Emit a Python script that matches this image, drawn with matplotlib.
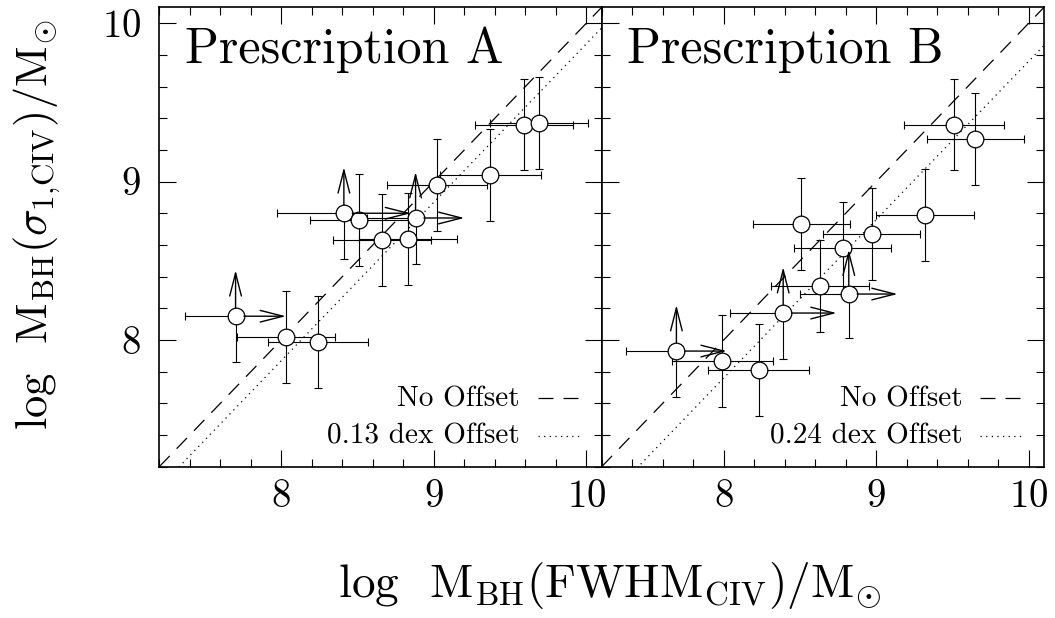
import numpy as np
import matplotlib
matplotlib.use("Agg")
import matplotlib.pyplot as plt
from matplotlib.ticker import MultipleLocator

plt.rcParams['font.family'] = 'cmr10'
plt.rcParams['mathtext.fontset'] = 'cm'
plt.rcParams['axes.formatter.use_mathtext'] = True

# Prescription A: log M_BH from FWHM (x) vs from sigma_1 (y)
xa = [7.70, 8.03, 8.24, 8.41, 8.51, 8.66, 8.83, 8.88, 9.02, 9.37, 9.59, 9.69]
ya = [8.15, 8.02, 7.99, 8.80, 8.76, 8.63, 8.64, 8.77, 8.98, 9.04, 9.36, 9.37]
xerr_a = [0.33, 0.32, 0.33, 0.44, 0.32, 0.32, 0.32, 0.32, 0.33, 0.33, 0.32, 0.32]
yerr_a = [0.29, 0.29, 0.29, 0.29, 0.29, 0.29, 0.29, 0.29, 0.29, 0.29, 0.29, 0.29]
lim_a = [1, 0, 0, 1, 0, 0, 0, 1, 0, 0, 0, 0]

# Prescription B
xb = [7.69, 7.99, 8.23, 8.39, 8.51, 8.63, 8.78, 8.82, 8.97, 9.32, 9.51, 9.65]
yb = [7.93, 7.87, 7.81, 8.17, 8.73, 8.34, 8.58, 8.29, 8.67, 8.79, 9.36, 9.27]
xerr_b = [0.33, 0.33, 0.33, 0.35, 0.32, 0.32, 0.32, 0.32, 0.32, 0.32, 0.33, 0.32]
yerr_b = [0.29, 0.29, 0.29, 0.29, 0.29, 0.29, 0.29, 0.28, 0.29, 0.29, 0.29, 0.29]
lim_b = [1, 0, 0, 1, 0, 0, 0, 1, 0, 0, 0, 0]

offsets = [0.13, 0.24]
titles = ['Prescription A', 'Prescription B']
lim = (7.2, 10.1)

fig = plt.figure(figsize=(10.55, 6.18), dpi=100)
ax1 = fig.add_axes([0.151, 0.2448, 0.4193, 0.7434])
ax2 = fig.add_axes([0.5703, 0.2448, 0.4193, 0.7434])

arrow_kw = dict(arrowstyle='->,head_length=1.65,head_width=0.42', lw=1.0,
                color='black', shrinkA=6, shrinkB=0, mutation_scale=10)


def panel(ax, x, y, ex, ey, limits, off, title):
    x = np.array(x); y = np.array(y); ex = np.array(ex); ey = np.array(ey)
    limits = np.array(limits, dtype=bool)

    # one-to-one relation and the offset version
    xx = np.array(lim)
    ax.plot(xx, xx, color='black', lw=0.9, ls=(0, (12, 8)), zorder=1)
    ax.plot(xx, xx - off, color='black', lw=0.9, ls=(0, (1, 3.5)), zorder=1)

    # error bars: symmetric for normal points, lower side only for limits
    xlo = ex; xhi = np.where(limits, 0, ex)
    ylo = ey; yhi = np.where(limits, 0, ey)
    ax.errorbar(x, y, xerr=[xlo, xhi], yerr=[ylo, yhi], fmt='none',
                ecolor='black', elinewidth=0.8, capsize=2.8, capthick=0.8,
                zorder=2)
    ax.plot(x, y, 'o', ms=12, mfc='white', mec='black', mew=0.9, zorder=3)

    # lower limits: arrows up and to the right
    for xi, yi, exi, eyi in zip(x[limits], y[limits], ex[limits], ey[limits]):
        ax.annotate('', xy=(xi, yi + eyi), xytext=(xi, yi),
                    arrowprops=arrow_kw, zorder=4)
        ax.annotate('', xy=(xi + exi, yi), xytext=(xi, yi),
                    arrowprops=arrow_kw, zorder=4)

    ax.set_xlim(lim)
    ax.set_ylim(lim)
    ax.xaxis.set_major_locator(MultipleLocator(1))
    ax.xaxis.set_minor_locator(MultipleLocator(0.2))
    ax.yaxis.set_major_locator(MultipleLocator(1))
    ax.yaxis.set_minor_locator(MultipleLocator(0.2))
    ax.tick_params(which='both', direction='in', top=True, right=True,
                   width=0.8, labelsize=28)
    ax.tick_params(which='major', length=12.5)
    ax.tick_params(which='minor', length=6)
    ax.tick_params(axis='x', pad=9)
    ax.tick_params(axis='y', pad=13)
    for s in ax.spines.values():
        s.set_linewidth(1.2)

    ax.text(0.058, 0.878, title, transform=ax.transAxes, fontsize=36,
            ha='left', va='baseline')

    # key in the lower right corner
    ax.text(0.815, 0.131, 'No Offset', transform=ax.transAxes, fontsize=21,
            ha='right', va='baseline')
    ax.text(0.815, 0.051, '%.2f dex Offset' % off, transform=ax.transAxes,
            fontsize=21, ha='right', va='baseline')
    ax.plot([0.856, 0.951], [0.149, 0.149], transform=ax.transAxes,
            color='black', lw=0.9, ls=(0, (12, 8)))
    ax.plot([0.856, 0.951], [0.0675, 0.0675], transform=ax.transAxes,
            color='black', lw=0.9, ls=(0, (1, 3.5)))


panel(ax1, xa, ya, xerr_a, yerr_a, lim_a, offsets[0], titles[0])
panel(ax2, xb, yb, xerr_b, yerr_b, lim_b, offsets[1], titles[1])
ax2.tick_params(labelleft=False)

fig.text(0.578, 0.034, r'log  M$_{\rm BH}$(FWHM$_{\rm CIV}$)/M$_{\odot}$',
         fontsize=34, ha='center', va='baseline')
fig.text(0.035, 0.636, r'log  M$_{\rm BH}$($\sigma_{\rm 1{,}CIV}$)/M$_{\odot}$',
         fontsize=32, ha='center', va='center', rotation=90)

fig.savefig('out.png', dpi=100)
